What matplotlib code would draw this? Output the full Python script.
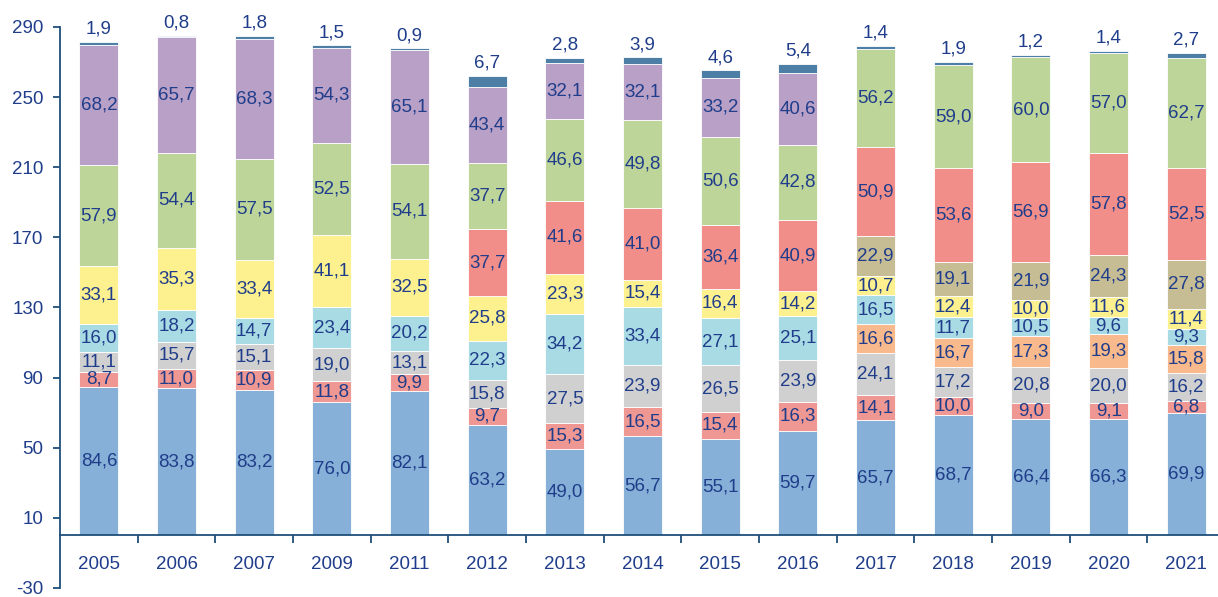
import matplotlib
matplotlib.use("Agg")
import matplotlib.pyplot as plt
import numpy as np

plt.rcParams['font.family'] = ['Liberation Sans', 'DejaVu Sans']
plt.rcParams['axes.unicode_minus'] = False

years = ['2005', '2006', '2007', '2009', '2011', '2012', '2013', '2014',
         '2015', '2016', '2017', '2018', '2019', '2020', '2021']

# stacked from bottom to top; None = segment not present that year
blue = [84.6, 83.8, 83.2, 76.0, 82.1, 63.2, 49.0, 56.7, 55.1, 59.7, 65.7, 68.7, 66.4, 66.3, 69.9]
red = [8.7, 11.0, 10.9, 11.8, 9.9, 9.7, 15.3, 16.5, 15.4, 16.3, 14.1, 10.0, 9.0, 9.1, 6.8]
gray = [11.1, 15.7, 15.1, 19.0, 13.1, 15.8, 27.5, 23.9, 26.5, 23.9, 24.1, 17.2, 20.8, 20.0, 16.2]
orange = [None] * 10 + [16.6, 16.7, 17.3, 19.3, 15.8]
cyan = [16.0, 18.2, 14.7, 23.4, 20.2, 22.3, 34.2, 33.4, 27.1, 25.1, 16.5, 11.7, 10.5, 9.6, 9.3]
yellow = [33.1, 35.3, 33.4, 41.1, 32.5, 25.8, 23.3, 15.4, 16.4, 14.2, 10.7, 12.4, 10.0, 11.6, 11.4]
tan = [None] * 10 + [22.9, 19.1, 21.9, 24.3, 27.8]
salmon = [None] * 5 + [37.7, 41.6, 41.0, 36.4, 40.9, 50.9, 53.6, 56.9, 57.8, 52.5]
green = [57.9, 54.4, 57.5, 52.5, 54.1, 37.7, 46.6, 49.8, 50.6, 42.8, 56.2, 59.0, 60.0, 57.0, 62.7]
purple = [68.2, 65.7, 68.3, 54.3, 65.1, 43.4, 32.1, 32.1, 33.2, 40.6] + [None] * 5
top = [1.9, 0.8, 1.8, 1.5, 0.9, 6.7, 2.8, 3.9, 4.6, 5.4, 1.4, 1.9, 1.2, 1.4, 2.7]

series = [blue, red, gray, orange, cyan, yellow, tan, salmon, green, purple, top]
colors = ['#86B0D7', '#EF9792', '#D0D0D0', '#F8B98C', '#A9DBE5', '#FCF08F',
          '#C7BD95', '#F28E89', '#BED59A', '#B9A0C7', '#4C7EA6']

text_c = '#1F3D8A'
axis_c = '#1F4E79'
fs = 13.5

fig = plt.figure(figsize=(12.18, 5.97), dpi=100)
ax = fig.add_axes([0.0493, 0.0151, 0.9565, 0.9397])

x = np.arange(len(years))
bottom = np.zeros(len(years))
for i, (vals, col) in enumerate(zip(series, colors)):
    v = np.array([0.0 if a is None else a for a in vals])
    ax.bar(x, v, width=0.5, bottom=bottom, color=col,
           edgecolor='white', linewidth=0.6, zorder=2)
    for j, a in enumerate(vals):
        if a is None:
            continue
        lab = f"{a:.1f}".replace('.', ',')
        if i == len(series) - 1:
            ax.annotate(lab, (x[j], bottom[j] + a), xytext=(0, 3),
                        textcoords='offset points', ha='center', va='bottom',
                        fontsize=fs, color=text_c)
        else:
            ax.text(x[j], bottom[j] + a / 2, lab, ha='center', va='center',
                    fontsize=fs, color=text_c, zorder=3)
    bottom += v

ax.set_xlim(-0.5, len(years) - 0.5)
ax.set_ylim(-30, 290)
ax.set_yticks(np.arange(-30, 291, 40))

ax.spines['top'].set_visible(False)
ax.spines['right'].set_visible(False)
ax.spines['bottom'].set_position(('data', 0))
for s in ('left', 'bottom'):
    ax.spines[s].set_color(axis_c)
    ax.spines[s].set_linewidth(1.3)

ax.set_xticks(x)
ax.set_xticklabels(years)
ax.set_xticks(np.arange(0.5, len(years)), minor=True)
ax.tick_params(axis='x', which='major', length=0, pad=15,
               labelsize=fs, labelcolor=text_c)
ax.tick_params(axis='x', which='minor', length=6, width=1.3,
               direction='out', color=axis_c)
ax.tick_params(axis='y', length=5, width=1.3, color=axis_c, pad=7,
               labelsize=fs, labelcolor=text_c)

fig.savefig('out.png', dpi=100)
